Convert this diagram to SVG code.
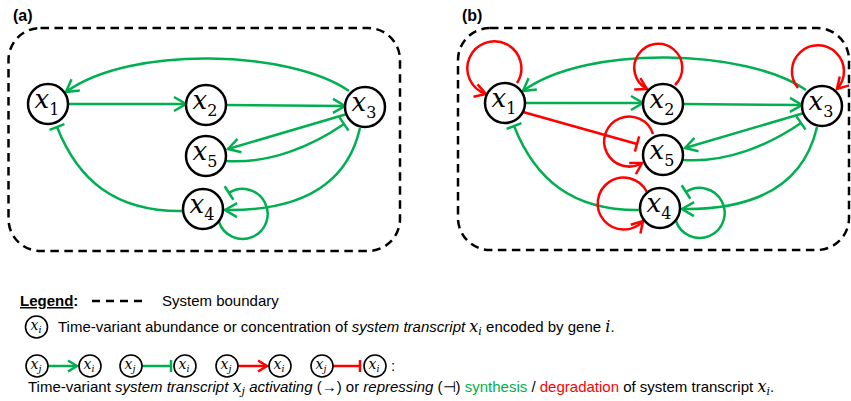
<svg xmlns="http://www.w3.org/2000/svg" width="851" height="401" viewBox="0 0 851 401">
<defs>
<style>
.box{fill:none;stroke:#000;stroke-width:2.5;stroke-dasharray:8.5 5.5}
.g{fill:none;stroke:#00b050;stroke-width:2.5}
.r{fill:none;stroke:#ff0000;stroke-width:2.5}
.nd circle{fill:#fff;stroke:#000;stroke-width:2.5}
.mx{font-family:"DejaVu Serif",serif;font-style:italic;font-size:26px;fill:#000}
.sb{font-style:normal;font-size:16px}
.lc{fill:#fff;stroke:#000;stroke-width:1.6}
.lx{font-family:"DejaVu Serif",serif;font-style:italic;font-size:14px;fill:#000}
.ls{font-size:9.5px}
.t{font-family:"Liberation Sans",Arial,sans-serif;font-size:15px;fill:#000}
.m{font-family:"DejaVu Serif",serif;font-style:italic;font-size:16px}
.ms{font-size:11px}
.pl{font-family:"Liberation Sans",Arial,sans-serif;font-size:16px;font-weight:bold;fill:#000}
</style>
<marker id="ag" markerUnits="userSpaceOnUse" markerWidth="30" markerHeight="30" refX="0" refY="0" orient="auto" overflow="visible"><path d="M-12,-7 L0,0 L-12,7" fill="none" stroke="#00b050" stroke-width="2.5"/></marker>
<marker id="ar" markerUnits="userSpaceOnUse" markerWidth="30" markerHeight="30" refX="0" refY="0" orient="auto" overflow="visible"><path d="M-11,-6.5 L0,0 L-11,6.5" fill="none" stroke="#ff0000" stroke-width="2.5"/></marker>
<marker id="bg" markerUnits="userSpaceOnUse" markerWidth="30" markerHeight="30" refX="0" refY="0" orient="auto" overflow="visible"><path d="M0,-8 L0,8" fill="none" stroke="#00b050" stroke-width="2.5"/></marker>
<marker id="br" markerUnits="userSpaceOnUse" markerWidth="30" markerHeight="30" refX="0" refY="0" orient="auto" overflow="visible"><path d="M0,-8 L0,8" fill="none" stroke="#ff0000" stroke-width="2.5"/></marker>
<marker id="sag" markerUnits="userSpaceOnUse" markerWidth="30" markerHeight="30" refX="0" refY="0" orient="auto" overflow="visible"><path d="M-9,-5.5 L0,0 L-9,5.5" fill="none" stroke="#00b050" stroke-width="2.5"/></marker>
<marker id="sar" markerUnits="userSpaceOnUse" markerWidth="30" markerHeight="30" refX="0" refY="0" orient="auto" overflow="visible"><path d="M-9,-5.5 L0,0 L-9,5.5" fill="none" stroke="#ff0000" stroke-width="2.5"/></marker>
<marker id="sbg" markerUnits="userSpaceOnUse" markerWidth="30" markerHeight="30" refX="0" refY="0" orient="auto" overflow="visible"><path d="M0,-6 L0,6" fill="none" stroke="#00b050" stroke-width="2.5"/></marker>
<marker id="sbr" markerUnits="userSpaceOnUse" markerWidth="30" markerHeight="30" refX="0" refY="0" orient="auto" overflow="visible"><path d="M0,-6 L0,6" fill="none" stroke="#ff0000" stroke-width="2.5"/></marker>
</defs>
<rect width="851" height="401" fill="#fff"/>

<!-- Panel (a) -->
<g id="panel-a">
<text class="pl" x="13" y="21">(a)</text>
<rect class="box" x="8.5" y="28" width="391.5" height="223" rx="32"/>
<g id="a-connectors">
<path class="g" d="M68,104 L186,104" marker-end="url(#ag)"/>
<path class="g" d="M226,105 L345,106" marker-end="url(#ag)"/>
<path class="g" d="M349,91 C290,50 130,45 66,92" marker-end="url(#ag)"/>
<path class="g" d="M347,114 L228,149" marker-end="url(#ag)"/>
<path class="g" d="M226,161 C270,164 312,146 344,124" marker-end="url(#bg)"/>
<path class="g" d="M360,128 C347,185 300,211 225,210" marker-end="url(#ag)"/>
<path class="g" d="M183,211 C115,212 78,180 57,127" marker-end="url(#bg)"/>
<path class="g" d="M219,222 A25,25 0 1 0 229,193" marker-end="url(#bg)"/>
</g>
<g id="a-x1" class="nd"><circle cx="48" cy="104" r="20"/><text class="mx" x="47" y="108" text-anchor="middle">x<tspan class="sb" dy="7">1</tspan></text></g>
<g id="a-x2" class="nd"><circle cx="206" cy="105" r="20"/><text class="mx" x="205" y="109" text-anchor="middle">x<tspan class="sb" dy="7">2</tspan></text></g>
<g id="a-x3" class="nd"><circle cx="365" cy="107" r="20"/><text class="mx" x="364" y="111" text-anchor="middle">x<tspan class="sb" dy="7">3</tspan></text></g>
<g id="a-x5" class="nd"><circle cx="206" cy="156" r="20"/><text class="mx" x="205" y="160" text-anchor="middle">x<tspan class="sb" dy="7">5</tspan></text></g>
<g id="a-x4" class="nd"><circle cx="203" cy="209" r="20"/><text class="mx" x="202" y="213" text-anchor="middle">x<tspan class="sb" dy="7">4</tspan></text></g>
</g>

<!-- Panel (b) -->
<g id="panel-b">
<text class="pl" x="462" y="21">(b)</text>
<rect class="box" x="458" y="28" width="391" height="222" rx="32"/>
<g transform="translate(457,-1)">
<g id="b-connectors">
<path class="g" d="M68,104 L186,104" marker-end="url(#ag)"/>
<path class="g" d="M226,105 L345,106" marker-end="url(#ag)"/>
<path class="g" d="M349,91 C290,50 130,45 66,92" marker-end="url(#ag)"/>
<path class="g" d="M347,114 L228,149" marker-end="url(#ag)"/>
<path class="g" d="M226,161 C270,164 312,146 344,124" marker-end="url(#bg)"/>
<path class="g" d="M360,128 C347,185 300,211 225,210" marker-end="url(#ag)"/>
<path class="g" d="M183,211 C115,212 78,180 57,127" marker-end="url(#bg)"/>
<path class="g" d="M219,222 A25,25 0 1 0 229,193" marker-end="url(#bg)"/>
<path class="r" d="M60,84 A27,27 0 1 0 29,95" marker-end="url(#ar)"/>
<path class="r" d="M218,86 A24,24 0 1 0 190,90" marker-end="url(#ar)"/>
<path class="r" d="M341,89 A26,26 0 1 1 380,90" marker-end="url(#ar)"/>
<path class="r" d="M196,135 A25,25 0 1 0 185,164" marker-end="url(#ar)"/>
<path class="r" d="M190,193 A26,26 0 1 0 186,222" marker-end="url(#ar)"/>
<path class="r" d="M66,113 L180,145" marker-end="url(#br)"/>
</g>
<g id="b-x1" class="nd"><circle cx="48" cy="104" r="20"/><text class="mx" x="47" y="108" text-anchor="middle">x<tspan class="sb" dy="7">1</tspan></text></g>
<g id="b-x2" class="nd"><circle cx="206" cy="105" r="20"/><text class="mx" x="205" y="109" text-anchor="middle">x<tspan class="sb" dy="7">2</tspan></text></g>
<g id="b-x3" class="nd"><circle cx="365" cy="107" r="20"/><text class="mx" x="364" y="111" text-anchor="middle">x<tspan class="sb" dy="7">3</tspan></text></g>
<g id="b-x5" class="nd"><circle cx="206" cy="156" r="20"/><text class="mx" x="205" y="160" text-anchor="middle">x<tspan class="sb" dy="7">5</tspan></text></g>
<g id="b-x4" class="nd"><circle cx="203" cy="209" r="20"/><text class="mx" x="202" y="213" text-anchor="middle">x<tspan class="sb" dy="7">4</tspan></text></g>
</g>
</g>

<!-- Legend -->
<g id="legend">
<text class="t" x="20" y="306" font-weight="bold" font-size="16"><tspan text-decoration="underline">Legend</tspan>:</text>
<line x1="92" y1="301" x2="146" y2="301" stroke="#000" stroke-width="2.5" stroke-dasharray="8 6"/>
<text class="t" x="162" y="306" font-size="14">System boundary</text>

<g id="leg-node">
<circle class="lc" cx="36.5" cy="327" r="11"/>
<text class="lx" x="36" y="330" text-anchor="middle">x<tspan class="ls" dy="3">i</tspan></text>
</g>
<text class="t" x="58" y="332">Time-variant abundance or concentration of <tspan font-style="italic">system transcript</tspan> <tspan class="m">x<tspan class="ms" dy="3">i</tspan></tspan><tspan dy="-3"> encoded by gene </tspan><tspan class="m">i</tspan>.</text>

<g id="leg-edges">
<line class="g" x1="48" y1="366" x2="77" y2="366" marker-end="url(#sag)"/>
<line class="g" x1="142" y1="366" x2="171" y2="366" marker-end="url(#sbg)"/>
<line class="r" x1="238" y1="366" x2="267" y2="366" marker-end="url(#sar)"/>
<line class="r" x1="333" y1="366" x2="360" y2="366" marker-end="url(#sbr)"/>
</g>
<g id="leg-circles">
<circle class="lc" cx="37" cy="366" r="11"/><text class="lx" x="36" y="369" text-anchor="middle">x<tspan class="ls" dy="3">j</tspan></text>
<circle class="lc" cx="90" cy="366" r="11"/><text class="lx" x="89" y="369" text-anchor="middle">x<tspan class="ls" dy="3">i</tspan></text>
<circle class="lc" cx="131" cy="366" r="11"/><text class="lx" x="130" y="369" text-anchor="middle">x<tspan class="ls" dy="3">j</tspan></text>
<circle class="lc" cx="185" cy="366" r="11"/><text class="lx" x="184" y="369" text-anchor="middle">x<tspan class="ls" dy="3">i</tspan></text>
<circle class="lc" cx="227" cy="366" r="11"/><text class="lx" x="226" y="369" text-anchor="middle">x<tspan class="ls" dy="3">j</tspan></text>
<circle class="lc" cx="280" cy="366" r="11"/><text class="lx" x="279" y="369" text-anchor="middle">x<tspan class="ls" dy="3">i</tspan></text>
<circle class="lc" cx="322" cy="366" r="11"/><text class="lx" x="321" y="369" text-anchor="middle">x<tspan class="ls" dy="3">j</tspan></text>
<circle class="lc" cx="375" cy="366" r="11"/><text class="lx" x="374" y="369" text-anchor="middle">x<tspan class="ls" dy="3">i</tspan></text>
</g>
<text class="t" x="391" y="371">:</text>
<text class="t" x="28" y="392">Time-variant <tspan font-style="italic">system transcript</tspan> <tspan class="m">x<tspan class="ms" dy="3">j</tspan></tspan><tspan dy="-3"> </tspan><tspan font-style="italic">activating</tspan> (→) or <tspan font-style="italic">repressing</tspan> (⊣) <tspan fill="#00b050">synthesis</tspan> / <tspan fill="#ff0000">degradation</tspan> of system transcript <tspan class="m">x<tspan class="ms" dy="3">i</tspan></tspan><tspan dy="-3">.</tspan></text>
</g>
</svg>
